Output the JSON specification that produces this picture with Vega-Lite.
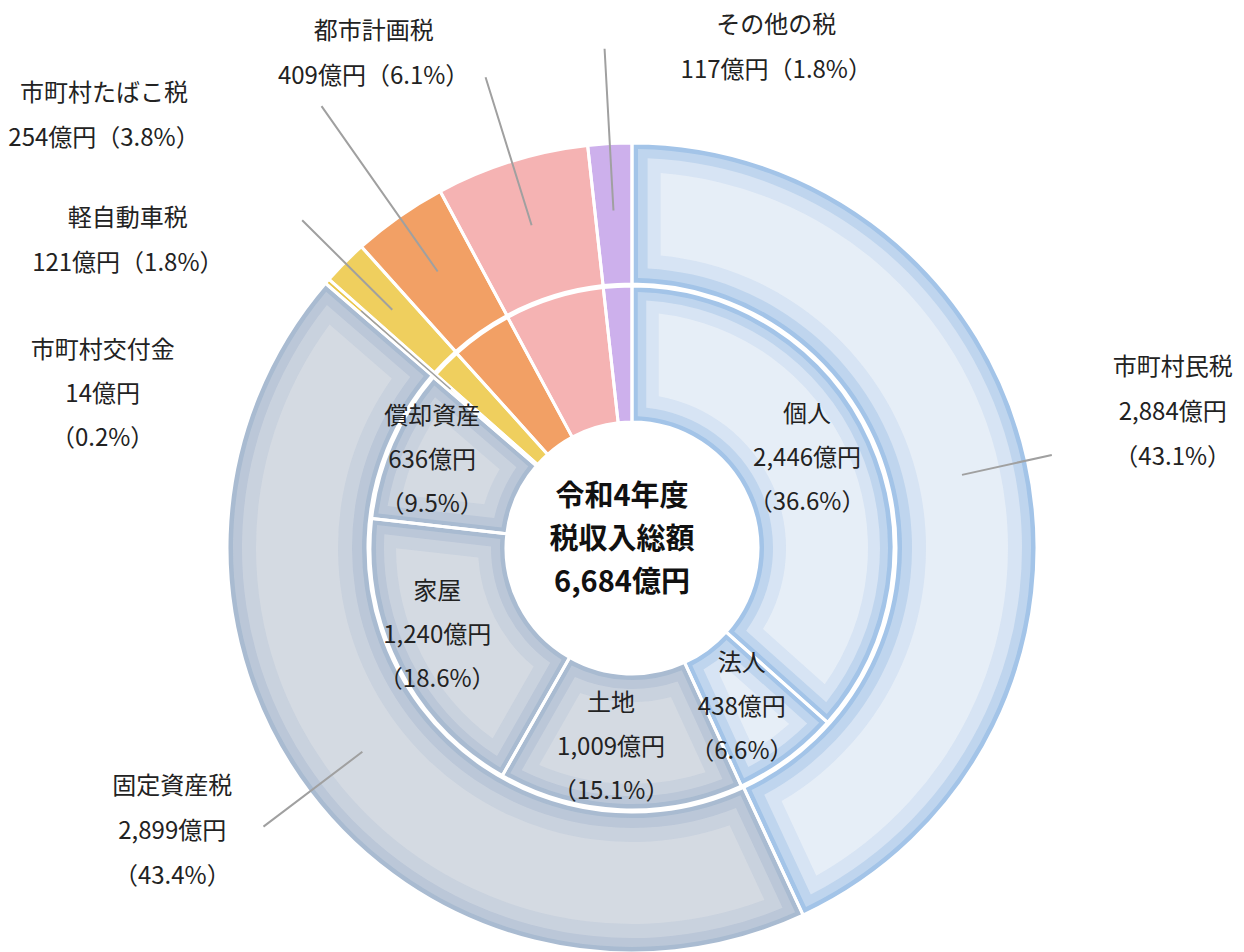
{
  "$schema": "https://vega.github.io/schema/vega-lite/v6.json",
  "width": 1204,
  "height": 700,
  "autosize": {"type": "none"},
  "padding": {"left": 30, "top": 198, "right": 10, "bottom": 54},
  "background": "#ffffff",
  "config": {"view": {"stroke": null}, "text": {"font": "Noto Sans CJK JP"}},
  "datasets": {
    "outer": [
      {"name": "市町村民税", "group": "市町村民税", "value": 2884, "order": 1, "label": "市町村民税\n2,884億円\n（43.1%）"},
      {"name": "固定資産税", "group": "固定資産税", "value": 2899, "order": 2, "label": "固定資産税\n2,899億円\n（43.4%）"},
      {"name": "市町村交付金", "group": "市町村交付金", "value": 14, "order": 3, "label": "市町村交付金\n14億円\n（0.2%）"},
      {"name": "軽自動車税", "group": "軽自動車税", "value": 121, "order": 4, "label": "軽自動車税\n121億円（1.8%）"},
      {"name": "市町村たばこ税", "group": "市町村たばこ税", "value": 254, "order": 5, "label": "市町村たばこ税\n254億円（3.8%）"},
      {"name": "都市計画税", "group": "都市計画税", "value": 409, "order": 6, "label": "都市計画税\n409億円（6.1%）"},
      {"name": "その他の税", "group": "その他の税", "value": 117, "order": 7, "label": "その他の税\n117億円（1.8%）"}
    ],
    "inner": [
      {"name": "個人", "group": "市町村民税", "value": 2446, "order": 1, "label": "個人\n2,446億円\n（36.6%）"},
      {"name": "法人", "group": "市町村民税", "value": 438, "order": 2, "label": "法人\n438億円\n（6.6%）"},
      {"name": "土地", "group": "固定資産税", "value": 1009, "order": 3, "label": "土地\n1,009億円\n（15.1%）"},
      {"name": "家屋", "group": "固定資産税", "value": 1240, "order": 4, "label": "家屋\n1,240億円\n（18.6%）"},
      {"name": "償却資産", "group": "固定資産税", "value": 636, "order": 5, "label": "償却資産\n636億円\n（9.5%）"},
      {"name": "市町村交付金", "group": "市町村交付金", "value": 14, "order": 6, "label": ""},
      {"name": "軽自動車税", "group": "軽自動車税", "value": 121, "order": 7, "label": ""},
      {"name": "市町村たばこ税", "group": "市町村たばこ税", "value": 254, "order": 8, "label": ""},
      {"name": "都市計画税", "group": "都市計画税", "value": 409, "order": 9, "label": ""},
      {"name": "その他の税", "group": "その他の税", "value": 117, "order": 10, "label": ""}
    ],
    "center": [
      {"text": "令和4年度\n税収入総額\n6,684億円"}
    ]
  },
  "resolve": {"scale": {"theta": "independent"}},
  "layer": [
    {
      "data": {"name": "outer"},
      "mark": {"type": "arc", "radius": 405, "radius2": 264},
      "encoding": {
        "theta": {"field": "value", "type": "quantitative", "stack": true},
        "order": {"field": "order", "type": "quantitative"},
        "detail": {"field": "name"},
        "color": {"field": "group", "type": "nominal", "legend": null,
          "scale": {"domain": ["市町村民税", "固定資産税", "市町村交付金", "軽自動車税", "市町村たばこ税", "都市計画税", "その他の税"],
                    "range": ["#a3c4e8", "#a9bbd1", "#e9c64c", "#efcf5e", "#f2a065", "#f5b3b3", "#cdb0ec"]}}
      }
    },
    {
      "data": {"name": "outer"},
      "mark": {"type": "arc", "radius": 399, "radius2": 270, "padAngle": 0.025},
      "encoding": {
        "theta": {"field": "value", "type": "quantitative", "stack": true},
        "order": {"field": "order", "type": "quantitative"},
        "detail": {"field": "name"},
        "fill": {"condition": {"test": "datum.group === '固定資産税'", "value": "#dce0e6"}, "value": "#f3f6fa"},
        "fillOpacity": {"condition": {"test": "datum.group === '市町村民税' || datum.group === '固定資産税'", "value": 0.35}, "value": 0}
      }
    },
    {
      "data": {"name": "outer"},
      "mark": {"type": "arc", "radius": 390, "radius2": 280, "padAngle": 0.065},
      "encoding": {
        "theta": {"field": "value", "type": "quantitative", "stack": true},
        "order": {"field": "order", "type": "quantitative"},
        "detail": {"field": "name"},
        "fill": {"condition": {"test": "datum.group === '固定資産税'", "value": "#dce0e6"}, "value": "#f3f6fa"},
        "fillOpacity": {"condition": {"test": "datum.group === '市町村民税' || datum.group === '固定資産税'", "value": 0.45}, "value": 0}
      }
    },
    {
      "data": {"name": "outer"},
      "mark": {"type": "arc", "radius": 376, "radius2": 294, "padAngle": 0.12},
      "encoding": {
        "theta": {"field": "value", "type": "quantitative", "stack": true},
        "order": {"field": "order", "type": "quantitative"},
        "detail": {"field": "name"},
        "fill": {"condition": {"test": "datum.group === '固定資産税'", "value": "#dce0e6"}, "value": "#f3f6fa"},
        "fillOpacity": {"condition": {"test": "datum.group === '市町村民税' || datum.group === '固定資産税'", "value": 0.55}, "value": 0}
      }
    },
    {
      "data": {"name": "outer"},
      "mark": {"type": "arc", "radius": 405, "radius2": 264, "filled": false, "stroke": "#ffffff", "strokeWidth": 3},
      "encoding": {
        "theta": {"field": "value", "type": "quantitative", "stack": true},
        "order": {"field": "order", "type": "quantitative"},
        "detail": {"field": "name"}
      }
    },
    {
      "data": {"name": "inner"},
      "mark": {"type": "arc", "radius": 262, "radius2": 126},
      "encoding": {
        "theta": {"field": "value", "type": "quantitative", "stack": true},
        "order": {"field": "order", "type": "quantitative"},
        "detail": {"field": "name"},
        "color": {"field": "group", "type": "nominal", "legend": null}
      }
    },
    {
      "data": {"name": "inner"},
      "mark": {"type": "arc", "radius": 256, "radius2": 132, "padAngle": 0.04},
      "encoding": {
        "theta": {"field": "value", "type": "quantitative", "stack": true},
        "order": {"field": "order", "type": "quantitative"},
        "detail": {"field": "name"},
        "fill": {"condition": {"test": "datum.group === '固定資産税'", "value": "#dce0e6"}, "value": "#f3f6fa"},
        "fillOpacity": {"condition": {"test": "datum.group === '市町村民税' || datum.group === '固定資産税'", "value": 0.35}, "value": 0}
      }
    },
    {
      "data": {"name": "inner"},
      "mark": {"type": "arc", "radius": 248, "radius2": 141, "padAngle": 0.1},
      "encoding": {
        "theta": {"field": "value", "type": "quantitative", "stack": true},
        "order": {"field": "order", "type": "quantitative"},
        "detail": {"field": "name"},
        "fill": {"condition": {"test": "datum.group === '固定資産税'", "value": "#dce0e6"}, "value": "#f3f6fa"},
        "fillOpacity": {"condition": {"test": "datum.group === '市町村民税' || datum.group === '固定資産税'", "value": 0.45}, "value": 0}
      }
    },
    {
      "data": {"name": "inner"},
      "mark": {"type": "arc", "radius": 236, "radius2": 154, "padAngle": 0.19},
      "encoding": {
        "theta": {"field": "value", "type": "quantitative", "stack": true},
        "order": {"field": "order", "type": "quantitative"},
        "detail": {"field": "name"},
        "fill": {"condition": {"test": "datum.group === '固定資産税'", "value": "#dce0e6"}, "value": "#f3f6fa"},
        "fillOpacity": {"condition": {"test": "datum.group === '市町村民税' || datum.group === '固定資産税'", "value": 0.55}, "value": 0}
      }
    },
    {
      "data": {"name": "inner"},
      "mark": {"type": "arc", "radius": 262, "radius2": 126, "filled": false, "stroke": "#ffffff", "strokeWidth": 3},
      "encoding": {
        "theta": {"field": "value", "type": "quantitative", "stack": true},
        "order": {"field": "order", "type": "quantitative"},
        "detail": {"field": "name"}
      }
    },
    {
      "data": {"name": "outer"},
      "mark": {"type": "arc", "radius": 430, "radius2": 338, "padAngle": 3.14, "filled": false, "stroke": "#a0a0a0", "strokeWidth": 2},
      "encoding": {
        "theta": {"field": "value", "type": "quantitative", "stack": true},
        "order": {"field": "order", "type": "quantitative"},
        "detail": {"field": "name"},
        "strokeOpacity": {"condition": {"test": "datum.name === '市町村民税'", "value": 1}, "value": 0}
      }
    },
    {
      "data": {"name": "outer"},
      "mark": {"type": "arc", "radius": 462, "radius2": 338, "padAngle": 3.14, "filled": false, "stroke": "#a0a0a0", "strokeWidth": 2},
      "encoding": {
        "theta": {"field": "value", "type": "quantitative", "stack": true},
        "order": {"field": "order", "type": "quantitative"},
        "detail": {"field": "name"},
        "strokeOpacity": {"condition": {"test": "datum.name === '固定資産税'", "value": 1}, "value": 0}
      }
    },
    {
      "data": {"name": "outer"},
      "mark": {"type": "arc", "radius": 360, "radius2": 241, "padAngle": 3.14, "filled": false, "stroke": "#a0a0a0", "strokeWidth": 1.5},
      "encoding": {
        "theta": {"field": "value", "type": "quantitative", "stack": true},
        "order": {"field": "order", "type": "quantitative"},
        "detail": {"field": "name"},
        "strokeOpacity": {"condition": {"test": "datum.name === '市町村交付金'", "value": 1}, "value": 0}
      }
    },
    {
      "data": {"name": "outer"},
      "mark": {"type": "arc", "radius": 465, "radius2": 338, "padAngle": 3.14, "filled": false, "stroke": "#a0a0a0", "strokeWidth": 2},
      "encoding": {
        "theta": {"field": "value", "type": "quantitative", "stack": true},
        "order": {"field": "order", "type": "quantitative"},
        "detail": {"field": "name"},
        "strokeOpacity": {"condition": {"test": "datum.name === '軽自動車税'", "value": 1}, "value": 0}
      }
    },
    {
      "data": {"name": "outer"},
      "mark": {"type": "arc", "radius": 540, "radius2": 338, "padAngle": 3.14, "filled": false, "stroke": "#a0a0a0", "strokeWidth": 2},
      "encoding": {
        "theta": {"field": "value", "type": "quantitative", "stack": true},
        "order": {"field": "order", "type": "quantitative"},
        "detail": {"field": "name"},
        "strokeOpacity": {"condition": {"test": "datum.name === '市町村たばこ税'", "value": 1}, "value": 0}
      }
    },
    {
      "data": {"name": "outer"},
      "mark": {"type": "arc", "radius": 493, "radius2": 338, "padAngle": 3.14, "filled": false, "stroke": "#a0a0a0", "strokeWidth": 2},
      "encoding": {
        "theta": {"field": "value", "type": "quantitative", "stack": true},
        "order": {"field": "order", "type": "quantitative"},
        "detail": {"field": "name"},
        "strokeOpacity": {"condition": {"test": "datum.name === '都市計画税'", "value": 1}, "value": 0}
      }
    },
    {
      "data": {"name": "outer"},
      "mark": {"type": "arc", "radius": 500, "radius2": 338, "padAngle": 3.14, "filled": false, "stroke": "#a0a0a0", "strokeWidth": 2},
      "encoding": {
        "theta": {"field": "value", "type": "quantitative", "stack": true},
        "order": {"field": "order", "type": "quantitative"},
        "detail": {"field": "name"},
        "strokeOpacity": {"condition": {"test": "datum.name === 'その他の税'", "value": 1}, "value": 0}
      }
    },
    {
      "data": {"name": "outer"},
      "mark": {"type": "text", "radius": 560, "dx": -6, "dy": -59, "fontSize": 24, "lineHeight": 45, "lineBreak": "\n", "color": "#222222", "align": "center", "baseline": "middle"},
      "encoding": {
        "theta": {"field": "value", "type": "quantitative", "stack": true},
        "order": {"field": "order", "type": "quantitative"},
        "detail": {"field": "name"},
        "text": {"condition": {"test": "datum.name === '市町村民税'", "field": "label"}, "value": ""}
      }
    },
    {
      "data": {"name": "outer"},
      "mark": {"type": "text", "radius": 560, "dx": -13, "dy": -99, "fontSize": 24, "lineHeight": 45, "lineBreak": "\n", "color": "#222222", "align": "center", "baseline": "middle"},
      "encoding": {
        "theta": {"field": "value", "type": "quantitative", "stack": true},
        "order": {"field": "order", "type": "quantitative"},
        "detail": {"field": "name"},
        "text": {"condition": {"test": "datum.name === '固定資産税'", "field": "label"}, "value": ""}
      }
    },
    {
      "data": {"name": "outer"},
      "mark": {"type": "text", "radius": 560, "dx": -108, "dy": 172, "fontSize": 24, "lineHeight": 44, "lineBreak": "\n", "color": "#222222", "align": "center", "baseline": "middle"},
      "encoding": {
        "theta": {"field": "value", "type": "quantitative", "stack": true},
        "order": {"field": "order", "type": "quantitative"},
        "detail": {"field": "name"},
        "text": {"condition": {"test": "datum.name === '市町村交付金'", "field": "label"}, "value": ""}
      }
    },
    {
      "data": {"name": "outer"},
      "mark": {"type": "text", "radius": 560, "dx": -107, "dy": 66, "fontSize": 24, "lineHeight": 45, "lineBreak": "\n", "color": "#222222", "align": "center", "baseline": "middle"},
      "encoding": {
        "theta": {"field": "value", "type": "quantitative", "stack": true},
        "order": {"field": "order", "type": "quantitative"},
        "detail": {"field": "name"},
        "text": {"condition": {"test": "datum.name === '軽自動車税'", "field": "label"}, "value": ""}
      }
    },
    {
      "data": {"name": "outer"},
      "mark": {"type": "text", "radius": 560, "dx": -206, "dy": 4, "fontSize": 24, "lineHeight": 45, "lineBreak": "\n", "color": "#222222", "align": "center", "baseline": "middle"},
      "encoding": {
        "theta": {"field": "value", "type": "quantitative", "stack": true},
        "order": {"field": "order", "type": "quantitative"},
        "detail": {"field": "name"},
        "text": {"condition": {"test": "datum.name === '市町村たばこ税'", "field": "label"}, "value": ""}
      }
    },
    {
      "data": {"name": "outer"},
      "mark": {"type": "text", "radius": 560, "dx": -92, "dy": 19, "fontSize": 24, "lineHeight": 45, "lineBreak": "\n", "color": "#222222", "align": "center", "baseline": "middle"},
      "encoding": {
        "theta": {"field": "value", "type": "quantitative", "stack": true},
        "order": {"field": "order", "type": "quantitative"},
        "detail": {"field": "name"},
        "text": {"condition": {"test": "datum.name === '都市計画税'", "field": "label"}, "value": ""}
      }
    },
    {
      "data": {"name": "outer"},
      "mark": {"type": "text", "radius": 560, "dx": 175, "dy": 37, "fontSize": 24, "lineHeight": 45, "lineBreak": "\n", "color": "#222222", "align": "center", "baseline": "middle"},
      "encoding": {
        "theta": {"field": "value", "type": "quantitative", "stack": true},
        "order": {"field": "order", "type": "quantitative"},
        "detail": {"field": "name"},
        "text": {"condition": {"test": "datum.name === 'その他の税'", "field": "label"}, "value": ""}
      }
    },
    {
      "data": {"name": "inner"},
      "mark": {"type": "text", "radius": 205, "dx": -12, "dy": -49, "fontSize": 24, "lineHeight": 44, "lineBreak": "\n", "color": "#222222", "align": "center", "baseline": "middle"},
      "encoding": {
        "theta": {"field": "value", "type": "quantitative", "stack": true},
        "order": {"field": "order", "type": "quantitative"},
        "detail": {"field": "name"},
        "text": {"field": "label"}
      }
    },
    {
      "data": {"name": "center"},
      "mark": {"type": "text", "dx": -10, "dy": -51, "fontSize": 29, "fontWeight": "bold", "lineHeight": 43, "lineBreak": "\n", "color": "#111111", "align": "center", "baseline": "middle"},
      "encoding": {
        "text": {"field": "text"}
      }
    }
  ]
}
